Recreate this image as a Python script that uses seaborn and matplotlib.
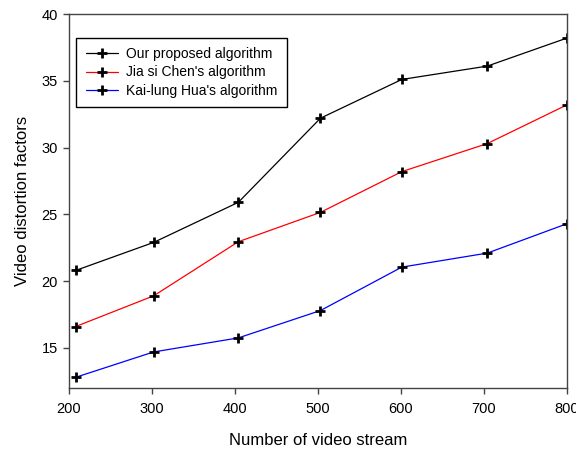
import pandas as pd
import seaborn as sns
import matplotlib
matplotlib.use('Agg')
import matplotlib.pyplot as plt

# data
streams = [208, 302, 404, 503, 601, 704, 800]
ours = [20.8, 22.9, 25.9, 32.2, 35.1, 36.1, 38.2]
chen = [16.6, 18.9, 22.95, 25.15, 28.2, 30.3, 33.2]
hua = [12.8, 14.7, 15.75, 17.8, 21.05, 22.1, 24.3]

series = [
    ('Our proposed algorithm', ours, 'black'),
    ("Jia si Chen's algorithm", chen, 'red'),
    ("Kai-lung Hua's algorithm", hua, 'blue'),
]

sns.set_style('ticks')
plt.rcParams['font.family'] = ['Liberation Sans', 'DejaVu Sans']
plt.rcParams['text.color'] = 'black'
plt.rcParams['axes.labelcolor'] = 'black'
plt.rcParams['xtick.labelcolor'] = 'black'
plt.rcParams['ytick.labelcolor'] = 'black'

fig = plt.figure(figsize=(5.76, 4.5), dpi=100)
ax = fig.add_axes([69 / 576, 1 - 388 / 450, 498 / 576, 374 / 450])

for label, values, color in series:
    df = pd.DataFrame({'stream': streams, 'distortion': values})
    sns.lineplot(data=df, x='stream', y='distortion', ax=ax, label=label,
                 color=color, linewidth=0.9, marker='+', markersize=7,
                 markeredgewidth=2, markeredgecolor='black', markerfacecolor='black')

ax.set_xlim(200, 800)
ax.set_ylim(12, 40)
ax.set_xticks([200, 300, 400, 500, 600, 700, 800])
ax.set_yticks([15, 20, 25, 30, 35, 40])

for side in ['left', 'bottom', 'top', 'right']:
    ax.spines[side].set_visible(True)
    ax.spines[side].set_color('#444444')
    ax.spines[side].set_linewidth(1.0)

ax.tick_params(axis='both', direction='out', length=4, width=1, color='#444444', labelsize=10.5)
ax.tick_params(axis='x', pad=6)
ax.tick_params(axis='y', pad=4)

ax.set_xlabel('Number of video stream', fontsize=12, labelpad=12)
ax.set_ylabel('Video distortion factors', fontsize=12, labelpad=8)

leg = ax.legend(loc='upper left', bbox_to_anchor=(0.014, 0.937), borderaxespad=0,
                fancybox=False, edgecolor='black', framealpha=1, fontsize=10,
                handlelength=2.3, handletextpad=0.6, labelspacing=0.3,
                borderpad=0.7, numpoints=1)
leg.get_frame().set_linewidth(1.0)

plt.savefig('out.png', dpi=100)
